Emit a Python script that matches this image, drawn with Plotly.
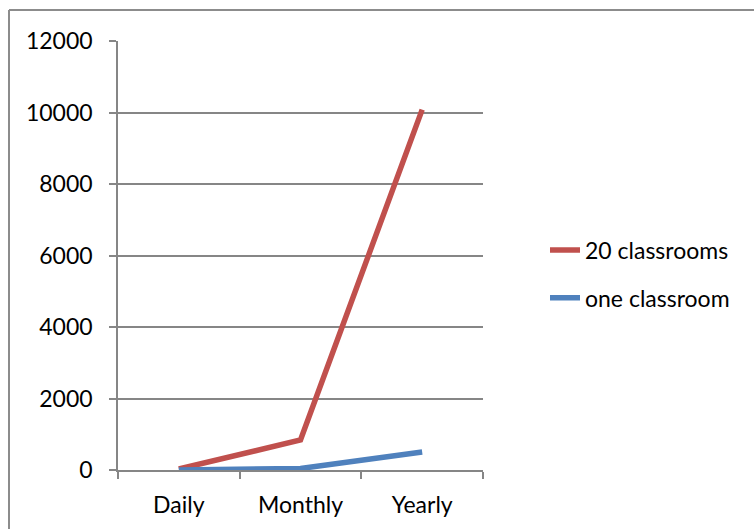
import plotly.graph_objects as go

categories = ["Daily", "Monthly", "Yearly"]
twenty_classrooms = [28, 840, 10080]
one_classroom = [1.4, 42, 504]
y_ticks = [0, 2000, 4000, 6000, 8000, 10000, 12000]

FONT = "Lato, Carlito, Calibri, sans-serif"
GRID = "#868686"

fig = go.Figure()
fig.add_trace(go.Scatter(x=categories, y=twenty_classrooms, mode="lines",
                         name="20 classrooms", legendgroup="a",
                         line=dict(color="#C0504D", width=5.5)))
fig.add_trace(go.Scatter(x=categories, y=one_classroom, mode="lines",
                         name="one classroom", legendgroup="b",
                         line=dict(color="#4F81BD", width=5.5)))

L, R, T, B = 118, 483, 41, 470
W, H = 754, 529
fig.update_layout(
    width=W, height=H,
    margin=dict(l=L, r=W - R, t=T, b=H - B),
    paper_bgcolor="white", plot_bgcolor="white",
    font=dict(family=FONT, size=23, color="black"),
    showlegend=True,
    legend=dict(x=(545 - L) / (R - L), xanchor="left",
                y=(B - 274) / (B - T), yanchor="middle",
                font=dict(size=23), tracegroupgap=15,
                bgcolor="rgba(0,0,0,0)"),
    xaxis=dict(type="category", range=[-0.5, 2.5], tickson="boundaries",
               ticks="outside", ticklen=7, tickcolor=GRID, tickwidth=1.5,
               showline=True, linecolor=GRID, linewidth=1.5,
               showgrid=False, zeroline=False, ticklabelstandoff=14),
    yaxis=dict(range=[0, 12000], tickvals=y_ticks,
               ticktext=[str(v) for v in y_ticks],
               ticks="outside", ticklen=7, tickcolor=GRID, tickwidth=1.5,
               showline=True, linecolor=GRID, linewidth=1.5,
               showgrid=True, gridcolor=GRID, gridwidth=1.5,
               zeroline=False, ticklabelstandoff=12),
)

bx = (9 - L) / (R - L)
by = 1 + (T - 10) / (B - T)
fig.add_shape(type="line", xref="paper", yref="paper", x0=bx, x1=bx, y0=-1, y1=by,
              line=dict(color="#8c8c8c", width=2))
fig.add_shape(type="line", xref="paper", yref="paper", x0=bx, x1=2, y0=by, y1=by,
              line=dict(color="#8c8c8c", width=2))

fig.write_html("out.html")
